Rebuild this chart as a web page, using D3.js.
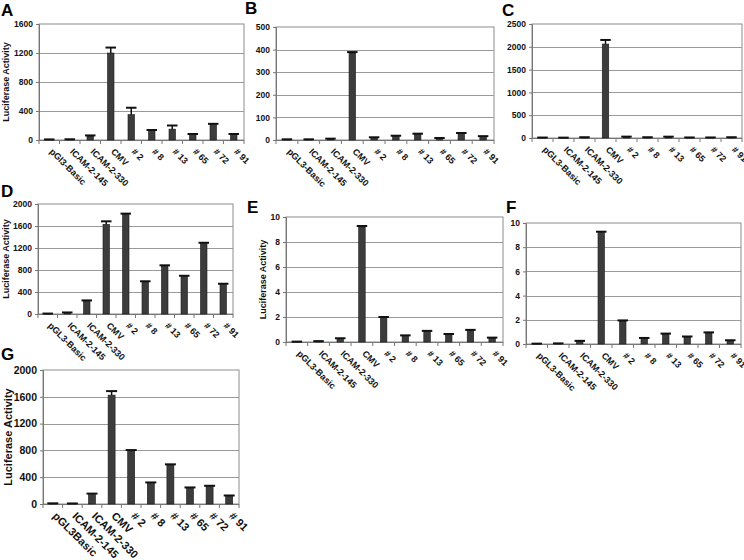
<!DOCTYPE html>
<html>
<head>
<meta charset="utf-8">
<script src="https://cdn.jsdelivr.net/npm/d3@7"></script>
<style>
  body { margin: 0; background: #fff; }
  svg { display: block; font-family: "Liberation Sans", Arial, sans-serif; }
</style>
</head>
<body>
<svg id="fig" width="744" height="560"></svg>
<script>
// categories
var labelsA = ['pGl3-Basic', 'ICAM-2-145', 'ICAM-2-330', 'CMV', '# 2', '# 8', '# 13', '# 65', '# 72', '# 91'];
var labelsStd = ['pGL3-Basic', 'ICAM-2-145', 'ICAM-2-330', 'CMV', '# 2', '# 8', '# 13', '# 65', '# 72', '# 91'];
var labelsG = ['pGL3Basic', 'ICAM-2-145', 'ICAM-2-330', 'CMV', '# 2', '# 8', '# 13', '# 65', '# 72', '# 91'];

// values and upper error
var valuesA = [8, 10, 55, 1200, 350, 130, 150, 75, 215, 75];
var errorsA = [0, 0, 8, 75, 95, 8, 50, 8, 8, 8];
var valuesB = [3, 3, 5, 385, 10, 17, 25, 7, 28, 15];
var errorsB = [0, 0, 1, 4, 2, 2, 3, 2, 3, 2];
var valuesC = [10, 8, 15, 2060, 25, 15, 25, 10, 10, 15];
var errorsC = [0, 0, 2, 90, 5, 2, 4, 2, 2, 2];
var valuesD = [8, 25, 235, 1630, 1810, 580, 870, 680, 1280, 535];
var errorsD = [0, 3, 12, 55, 15, 15, 15, 15, 15, 15];
var valuesE = [0.03, 0.06, 0.27, 9.2, 1.95, 0.5, 0.85, 0.6, 0.93, 0.32];
var errorsE = [0, 0.01, 0.03, 0.08, 0.05, 0.03, 0.04, 0.04, 0.04, 0.03];
var valuesF = [0.03, 0.04, 0.23, 9.2, 1.9, 0.47, 0.82, 0.58, 0.92, 0.28];
var errorsF = [0, 0.01, 0.03, 0.08, 0.05, 0.03, 0.04, 0.04, 0.04, 0.03];
var valuesG = [10, 8, 140, 1625, 785, 310, 580, 235, 260, 115];
var errorsG = [0, 0, 15, 60, 20, 12, 12, 12, 12, 12];

// y ticks
var ticksA = [0, 400, 800, 1200, 1600];
var ticksB = [0, 100, 200, 300, 400, 500];
var ticksC = [0, 500, 1000, 1500, 2000, 2500];
var ticksD = [0, 400, 800, 1200, 1600, 2000];
var ticksE = [0, 2, 4, 6, 8, 10];
var ticksF = [0, 2, 4, 6, 8, 10];
var ticksG = [0, 400, 800, 1200, 1600, 2000];

var panels = [
  {letter: 'A', labels: labelsA, values: valuesA, errors: errorsA, ticks: ticksA,
   box: [39, 244, 24, 140], lx: 1, ly: 16, title: true, tx: 6, fs: 8.5},
  {letter: 'B', labels: labelsStd, values: valuesB, errors: errorsB, ticks: ticksB,
   box: [276, 494, 27, 140], lx: 245, ly: 14, title: false, fs: 8.5},
  {letter: 'C', labels: labelsStd, values: valuesC, errors: errorsC, ticks: ticksC,
   box: [532, 742, 24, 138], lx: 502, ly: 16, title: false, fs: 8.5},
  {letter: 'D', labels: labelsStd, values: valuesD, errors: errorsD, ticks: ticksD,
   box: [38, 233, 204, 314], lx: 1, ly: 197, title: true, tx: 6, fs: 8.5},
  {letter: 'E', labels: labelsStd, values: valuesE, errors: errorsE, ticks: ticksE,
   box: [286, 503, 217, 342], lx: 247, ly: 213, title: true, tx: 263, fs: 8.5},
  {letter: 'F', labels: labelsStd, values: valuesF, errors: errorsF, ticks: ticksF,
   box: [526, 741, 223, 344], lx: 506, ly: 213, title: false, fs: 8.5},
  {letter: 'G', labels: labelsG, values: valuesG, errors: errorsG, ticks: ticksG,
   box: [43, 239, 370, 504], lx: 1, ly: 360, title: true, tx: 8, fs: 10.5}
];

var svg = d3.select('#fig');

panels.forEach(drawPanel);

function drawPanel(p) {
  var x0 = p.box[0], x1 = p.box[1], y0 = p.box[2], y1 = p.box[3];
  var g = svg.append('g');

  var x = d3.scaleBand().domain(p.labels).range([x0, x1]);
  var y = d3.scaleLinear().domain([0, d3.max(p.ticks)]).range([y1, y0]);
  var bw = p.fs > 9 ? 7 : 6.5;

  // frame
  g.append('rect')
    .attr('x', x0).attr('y', y0)
    .attr('width', x1 - x0).attr('height', y1 - y0)
    .attr('fill', '#fff').attr('stroke', '#8c8c8c').attr('stroke-width', 1);

  // grid
  g.selectAll('line.grid')
    .data(p.ticks.slice(1, -1))
    .enter().append('line')
    .attr('x1', x0).attr('x2', x1)
    .attr('y1', function(d) { return Math.round(y(d)) + 0.5; })
    .attr('y2', function(d) { return Math.round(y(d)) + 0.5; })
    .attr('stroke', '#9a9a9a').attr('stroke-width', 1);

  // y axis
  var ya = d3.axisLeft(y).tickValues(p.ticks).tickFormat(d3.format('d'))
    .tickSize(3).tickPadding(3);
  var yg = g.append('g').attr('transform', 'translate(' + x0 + ',0)').call(ya);
  yg.select('.domain').attr('stroke', '#777');
  yg.selectAll('.tick line').attr('stroke', '#777');
  yg.selectAll('text')
    .attr('font-size', p.fs).attr('font-weight', 'bold').attr('fill', '#111');

  // x axis: ticks at category boundaries
  var bounds = p.labels.map(function(d) { return x(d); }).concat([x1]);
  g.append('line')
    .attr('x1', x0).attr('x2', x1)
    .attr('y1', y1 + 0.5).attr('y2', y1 + 0.5)
    .attr('stroke', '#777');
  g.selectAll('line.xt')
    .data(bounds)
    .enter().append('line')
    .attr('x1', function(d) { return d; }).attr('x2', function(d) { return d; })
    .attr('y1', y1).attr('y2', y1 + 4)
    .attr('stroke', '#777');

  // bars
  var idx = d3.range(p.values.length);
  g.selectAll('rect.bar')
    .data(idx)
    .enter().append('rect')
    .attr('x', function(i) { return x(p.labels[i]) + x.bandwidth() / 2 - bw / 2; })
    .attr('y', function(i) { return y(p.values[i]); })
    .attr('width', bw)
    .attr('height', function(i) { return y1 - y(p.values[i]); })
    .attr('fill', '#3c3c3c').attr('stroke', '#1a1a1a').attr('stroke-width', 0.6);

  // error bars (upper only)
  var cap = bw + 4;
  idx.forEach(function(i) {
    var cx = x(p.labels[i]) + x.bandwidth() / 2;
    var top = y(p.values[i] + p.errors[i]);
    g.append('line')
      .attr('x1', cx).attr('x2', cx)
      .attr('y1', y(p.values[i])).attr('y2', top)
      .attr('stroke', '#111').attr('stroke-width', 1.5);
    g.append('line')
      .attr('x1', cx - cap / 2).attr('x2', cx + cap / 2)
      .attr('y1', top).attr('y2', top)
      .attr('stroke', '#111').attr('stroke-width', 2);
  });

  // x labels rotated 45
  g.selectAll('text.xl')
    .data(p.labels)
    .enter().append('text')
    .attr('transform', function(d) {
      return 'translate(' + (x(d) + x.bandwidth() / 2 + 2) + ',' + (y1 + 10) + ') rotate(45)';
    })
    .attr('font-size', p.fs + 0.5).attr('font-weight', 'bold').attr('fill', '#111')
    .attr('dy', '0.35em')
    .text(function(d) { return d; });

  // y title
  if (p.title) {
    g.append('text')
      .attr('transform', 'translate(' + p.tx + ',' + ((y0 + y1) / 2) + ') rotate(-90)')
      .attr('text-anchor', 'middle').attr('dy', '0.35em')
      .attr('font-size', p.fs + 0.5).attr('font-weight', 'bold').attr('fill', '#111')
      .text('Luciferase Activity');
  }

  // panel letter
  g.append('text')
    .attr('x', p.lx).attr('y', p.ly)
    .attr('font-size', 17).attr('font-weight', 'bold').attr('fill', '#000')
    .text(p.letter);
}
</script>
</body>
</html>
